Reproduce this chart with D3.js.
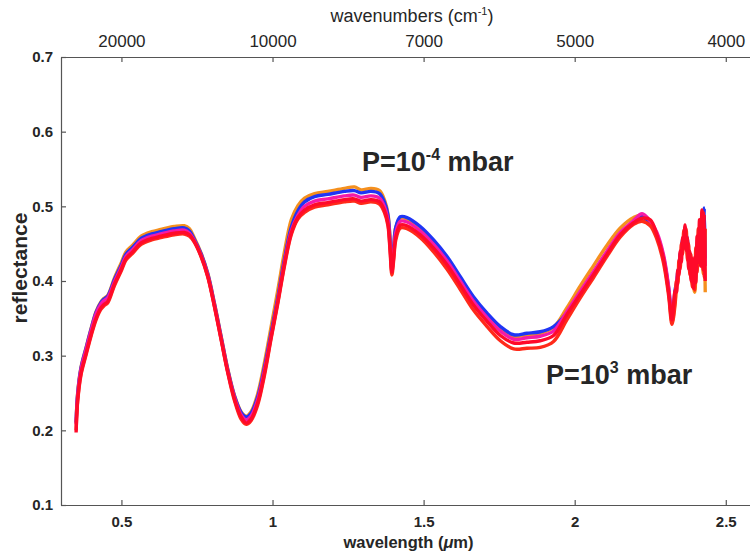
<!DOCTYPE html>
<meta charset="utf-8">
<script src="https://d3js.org/d3.v7.min.js"></script>
<style>
  body { margin: 0; background: #fff; }
  text { font-family: "Liberation Sans", Arial, sans-serif; fill: #262626; }
</style>
<div id="chart"></div>
<script>
// wavelength grid (micrometres) shared by all spectra
const wavelengths = [
  0.350, 0.355, 0.366, 0.383, 0.400, 0.416, 0.432, 0.443, 0.455, 0.477,
  0.500, 0.515, 0.537, 0.565, 0.600, 0.630, 0.675, 0.708, 0.725, 0.741,
  0.764, 0.786, 0.808, 0.830, 0.852, 0.874, 0.896, 0.913, 0.929, 0.951,
  0.973, 0.995, 1.018, 1.039, 1.062, 1.084, 1.106, 1.139, 1.183, 1.238,
  1.271, 1.293, 1.326, 1.354, 1.371, 1.382, 1.389, 1.395, 1.401, 1.408,
  1.423, 1.445, 1.489, 1.533, 1.577, 1.621, 1.665, 1.710, 1.754, 1.798,
  1.842, 1.886, 1.930, 1.974, 2.018, 2.063, 2.107, 2.151, 2.195, 2.223,
  2.250, 2.272, 2.294, 2.311, 2.322,
  // noisy tail
  2.333, 2.337, 2.341, 2.345, 2.349, 2.353, 2.357, 2.361, 2.365, 2.369,
  2.373, 2.377, 2.381, 2.385, 2.389, 2.393, 2.397, 2.401, 2.405, 2.409,
  2.413, 2.417, 2.421, 2.425, 2.429, 2.432
];

// reflectance spectra, lowest to highest pressure
const reflOrange = [
  0.211, 0.249, 0.284, 0.311, 0.337, 0.359, 0.372, 0.377, 0.381, 0.404,
  0.425, 0.439, 0.448, 0.460, 0.466, 0.469, 0.473, 0.474, 0.470, 0.458,
  0.437, 0.410, 0.370, 0.326, 0.282, 0.247, 0.225, 0.219, 0.225, 0.249,
  0.290, 0.338, 0.389, 0.438, 0.482, 0.501, 0.511, 0.517, 0.520, 0.524,
  0.526, 0.522, 0.524, 0.521, 0.508, 0.490, 0.456, 0.421, 0.446, 0.472,
  0.484, 0.483, 0.471, 0.453, 0.431, 0.404, 0.377, 0.355, 0.337, 0.326,
  0.328, 0.330, 0.338, 0.364, 0.393, 0.421, 0.448, 0.471, 0.485, 0.488,
  0.476, 0.460, 0.428, 0.384, 0.345,
  0.376, 0.392, 0.400, 0.415, 0.424, 0.434, 0.442, 0.452, 0.455, 0.450,
  0.436, 0.425, 0.415, 0.405, 0.398, 0.392, 0.385, 0.405, 0.420, 0.440,
  0.445, 0.440, 0.455, 0.410, 0.440, 0.385
];
const reflBlue = [
  0.210, 0.248, 0.283, 0.310, 0.336, 0.358, 0.371, 0.376, 0.380, 0.402,
  0.422, 0.436, 0.445, 0.457, 0.463, 0.466, 0.470, 0.471, 0.467, 0.456,
  0.436, 0.409, 0.369, 0.325, 0.281, 0.246, 0.224, 0.218, 0.223, 0.245,
  0.284, 0.330, 0.379, 0.428, 0.472, 0.494, 0.506, 0.513, 0.516, 0.520,
  0.521, 0.518, 0.520, 0.517, 0.505, 0.488, 0.455, 0.420, 0.445, 0.472,
  0.486, 0.485, 0.473, 0.455, 0.433, 0.406, 0.379, 0.357, 0.339, 0.328,
  0.330, 0.332, 0.339, 0.357, 0.384, 0.411, 0.438, 0.463, 0.479, 0.486,
  0.477, 0.462, 0.432, 0.390, 0.350,
  0.390, 0.396, 0.412, 0.418, 0.436, 0.440, 0.455, 0.458, 0.472, 0.462,
  0.455, 0.438, 0.432, 0.420, 0.412, 0.405, 0.410, 0.430, 0.445, 0.455,
  0.470, 0.450, 0.490, 0.450, 0.498, 0.430
];
const reflMagenta = [
  0.208, 0.246, 0.281, 0.308, 0.334, 0.356, 0.369, 0.374, 0.378, 0.399,
  0.419, 0.433, 0.442, 0.454, 0.460, 0.463, 0.467, 0.468, 0.464, 0.454,
  0.434, 0.407, 0.367, 0.323, 0.279, 0.244, 0.221, 0.214, 0.219, 0.241,
  0.280, 0.326, 0.375, 0.424, 0.467, 0.488, 0.500, 0.507, 0.510, 0.514,
  0.515, 0.512, 0.514, 0.511, 0.499, 0.482, 0.449, 0.415, 0.438, 0.465,
  0.480, 0.479, 0.467, 0.449, 0.427, 0.400, 0.373, 0.351, 0.333, 0.322,
  0.324, 0.326, 0.333, 0.359, 0.386, 0.413, 0.440, 0.465, 0.481, 0.490,
  0.480, 0.465, 0.435, 0.392, 0.352,
  0.384, 0.398, 0.408, 0.420, 0.432, 0.440, 0.452, 0.460, 0.468, 0.458,
  0.450, 0.435, 0.430, 0.418, 0.415, 0.402, 0.412, 0.425, 0.438, 0.452,
  0.462, 0.445, 0.480, 0.440, 0.470, 0.420
];
const reflRedLow = [
  0.200, 0.238, 0.274, 0.301, 0.327, 0.348, 0.362, 0.367, 0.371, 0.394,
  0.414, 0.428, 0.437, 0.449, 0.455, 0.458, 0.462, 0.463, 0.460, 0.452,
  0.432, 0.405, 0.365, 0.321, 0.277, 0.240, 0.215, 0.208, 0.213, 0.234,
  0.273, 0.322, 0.371, 0.419, 0.462, 0.483, 0.492, 0.499, 0.502, 0.506,
  0.507, 0.504, 0.506, 0.503, 0.491, 0.474, 0.440, 0.408, 0.428, 0.455,
  0.471, 0.470, 0.458, 0.439, 0.416, 0.389, 0.361, 0.339, 0.320, 0.309,
  0.310, 0.311, 0.319, 0.348, 0.377, 0.405, 0.433, 0.459, 0.476, 0.480,
  0.474, 0.456, 0.424, 0.380, 0.342,
  0.372, 0.400, 0.396, 0.428, 0.416, 0.450, 0.436, 0.468, 0.448, 0.470,
  0.428, 0.450, 0.408, 0.436, 0.392, 0.428, 0.388, 0.445, 0.412, 0.470,
  0.430, 0.478, 0.425, 0.492, 0.405, 0.470
];
const reflRed = [
  0.197, 0.240, 0.276, 0.303, 0.329, 0.350, 0.364, 0.369, 0.373, 0.396,
  0.416, 0.430, 0.439, 0.451, 0.457, 0.460, 0.464, 0.465, 0.462, 0.453,
  0.433, 0.406, 0.366, 0.322, 0.278, 0.242, 0.218, 0.210, 0.215, 0.237,
  0.276, 0.324, 0.373, 0.421, 0.464, 0.485, 0.495, 0.502, 0.505, 0.509,
  0.510, 0.507, 0.509, 0.506, 0.494, 0.477, 0.444, 0.412, 0.432, 0.459,
  0.475, 0.474, 0.462, 0.444, 0.422, 0.395, 0.368, 0.346, 0.327, 0.317,
  0.318, 0.320, 0.327, 0.355, 0.382, 0.409, 0.436, 0.462, 0.478, 0.484,
  0.482, 0.462, 0.430, 0.385, 0.348,
  0.388, 0.385, 0.414, 0.408, 0.440, 0.425, 0.458, 0.444, 0.475, 0.441,
  0.458, 0.416, 0.440, 0.400, 0.430, 0.390, 0.432, 0.398, 0.460, 0.425,
  0.482, 0.420, 0.495, 0.415, 0.490, 0.400
];

// axis ticks
const xTicks = [0.5, 1, 1.5, 2, 2.5];
const xTickLabels = ["0.5", "1", "1.5", "2", "2.5"];
const wavenumberLabels = ["20000", "10000", "7000", "5000", "4000"];
const yTicks = [0.1, 0.2, 0.3, 0.4, 0.5, 0.6, 0.7];

const series = [
  {values: reflOrange, color: "#f5901e"},
  {values: reflBlue, color: "#1f35f5"},
  {values: reflMagenta, color: "#f51aa8"},
  {values: reflRedLow, color: "#ff2a1a"},
  {values: reflRed, color: "#ff0a2a"}
];

const W = 750, H = 552;
const mLeft = 61, mTop = 57, mBottom = 505, mRight = 756;

const svg = d3.select("#chart").append("svg")
  .attr("width", W)
  .attr("height", H);

const x = d3.scaleLinear().domain([0.3, 2.6]).range([mLeft, mRight]);
const y = d3.scaleLinear().domain([0.1, 0.7]).range([mBottom, mTop]);

// spectra
const line = d3.line()
  .x((d, i) => x(wavelengths[i]))
  .y(d => y(d))
  .curve(d3.curveCatmullRom.alpha(0.5));

svg.append("g")
  .selectAll("path")
  .data(series)
  .join("path")
  .attr("fill", "none")
  .attr("stroke", d => d.color)
  .attr("stroke-width", 3.4)
  .attr("stroke-linejoin", "round")
  .attr("d", d => line(d.values));

// bottom axis (ticks point inward)
const gx = svg.append("g")
  .attr("transform", "translate(0," + mBottom + ")")
  .call(d3.axisBottom(x)
    .tickValues(xTicks)
    .tickFormat((d, i) => xTickLabels[i])
    .tickSizeInner(-5)
    .tickSizeOuter(0)
    .tickPadding(11));

// top axis in wavenumbers
const gt = svg.append("g")
  .attr("transform", "translate(0," + mTop + ")")
  .call(d3.axisTop(x)
    .tickValues(xTicks)
    .tickFormat((d, i) => wavenumberLabels[i])
    .tickSizeInner(-5)
    .tickSizeOuter(0)
    .tickPadding(10));

// left axis
const gy = svg.append("g")
  .attr("transform", "translate(" + mLeft + ",0)")
  .call(d3.axisLeft(y)
    .tickValues(yTicks)
    .tickFormat(d3.format(".1f"))
    .tickSizeInner(-5)
    .tickSizeOuter(0)
    .tickPadding(8));

[gx, gt, gy].forEach(g => {
  g.selectAll(".domain").attr("stroke", "#555").attr("stroke-width", 1.2);
  g.selectAll(".tick line").attr("stroke", "#555").attr("stroke-width", 1.2);
  g.selectAll(".tick text").attr("fill", "#262626")
    .attr("font-family", "Liberation Sans, Arial, sans-serif");
});
gx.selectAll(".tick text").attr("font-size", 15).attr("font-weight", "bold");
gy.selectAll(".tick text").attr("font-size", 15).attr("font-weight", "bold");
gt.selectAll(".tick text").attr("font-size", 17);

// axis titles
const xl = svg.append("text")
  .attr("x", (mLeft + mRight) / 2)
  .attr("y", 548)
  .attr("text-anchor", "middle")
  .attr("font-size", 16.5)
  .attr("font-weight", "bold")
  .text("wavelength (");
xl.append("tspan").attr("font-style", "italic").text("\u03bc");
xl.append("tspan").text("m)");

const wn = svg.append("text")
  .attr("x", 412)
  .attr("y", 22)
  .attr("text-anchor", "middle")
  .attr("font-size", 18)
  .text("wavenumbers (cm");
wn.append("tspan").attr("font-size", 11).attr("dy", -7).text("-1");
wn.append("tspan").attr("dy", 7).text(")");

svg.append("text")
  .attr("transform", "translate(27,268) rotate(-90)")
  .attr("text-anchor", "middle")
  .attr("font-size", 21)
  .attr("font-weight", "bold")
  .text("reflectance");

// pressure annotations
const p1 = svg.append("text")
  .attr("x", 362).attr("y", 171)
  .attr("font-size", 27).attr("font-weight", "bold")
  .text("P=10");
p1.append("tspan").attr("font-size", 16).attr("dy", -11).text("-4");
p1.append("tspan").attr("dy", 11).text(" mbar");

const p2 = svg.append("text")
  .attr("x", 546).attr("y", 384)
  .attr("font-size", 27).attr("font-weight", "bold")
  .text("P=10");
p2.append("tspan").attr("font-size", 16).attr("dy", -11).text("3");
p2.append("tspan").attr("dy", 11).text(" mbar");
</script>
